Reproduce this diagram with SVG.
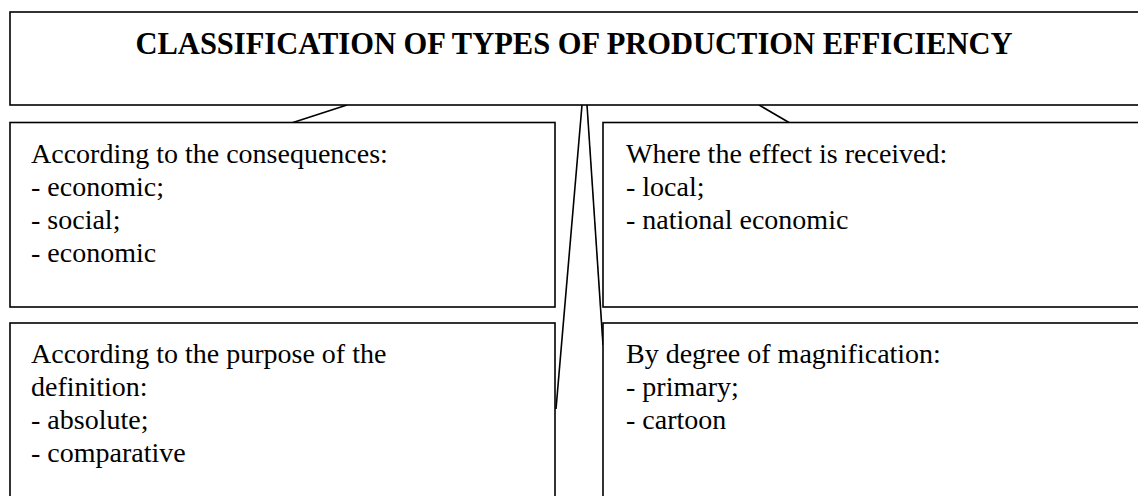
<svg xmlns="http://www.w3.org/2000/svg" width="1138" height="496" viewBox="0 0 1138 496">
<style>
.box{fill:#fff;stroke:#000;stroke-width:1.6}
.ln{stroke:#000;stroke-width:1.6;fill:none}
.t{font-family:"Liberation Serif","Times New Roman",serif;font-size:28px;fill:#000}
.h{font-family:"Liberation Serif","Times New Roman",serif;font-size:30.5px;font-weight:bold;fill:#000}
</style>
<rect width="1138" height="496" fill="#fff"/>
<g id="connectors">
<line class="ln" x1="347" y1="105" x2="293" y2="122.5"/>
<line class="ln" x1="759" y1="105" x2="789" y2="122.5"/>
<line class="ln" x1="582" y1="105" x2="556" y2="409"/>
<line class="ln" x1="587" y1="105" x2="603" y2="345"/>
</g>
<g id="title">
<rect class="box" x="10" y="12" width="1140" height="93"/>
<text class="h" x="574" y="53.5" text-anchor="middle">CLASSIFICATION OF TYPES OF PRODUCTION EFFICIENCY</text>
</g>
<g id="consequences">
<rect class="box" x="10" y="122.5" width="545" height="184.5"/>
<text class="t" x="31" y="163">According to the consequences:</text>
<text class="t" x="31" y="196">- economic;</text>
<text class="t" x="31" y="229">- social;</text>
<text class="t" x="31" y="262">- economic</text>
</g>
<g id="effect">
<rect class="box" x="603" y="122.5" width="547" height="184.5"/>
<text class="t" x="626" y="163">Where the effect is received:</text>
<text class="t" x="626" y="196">- local;</text>
<text class="t" x="626" y="229">- national economic</text>
</g>
<g id="purpose">
<rect class="box" x="10" y="323" width="545" height="190"/>
<text class="t" x="31" y="363">According to the purpose of the</text>
<text class="t" x="31" y="396">definition:</text>
<text class="t" x="31" y="429">- absolute;</text>
<text class="t" x="31" y="462">- comparative</text>
</g>
<g id="magnification">
<rect class="box" x="603" y="323" width="547" height="190"/>
<text class="t" x="626" y="363">By degree of magnification:</text>
<text class="t" x="626" y="396">- primary;</text>
<text class="t" x="626" y="429">- cartoon</text>
</g>
</svg>
